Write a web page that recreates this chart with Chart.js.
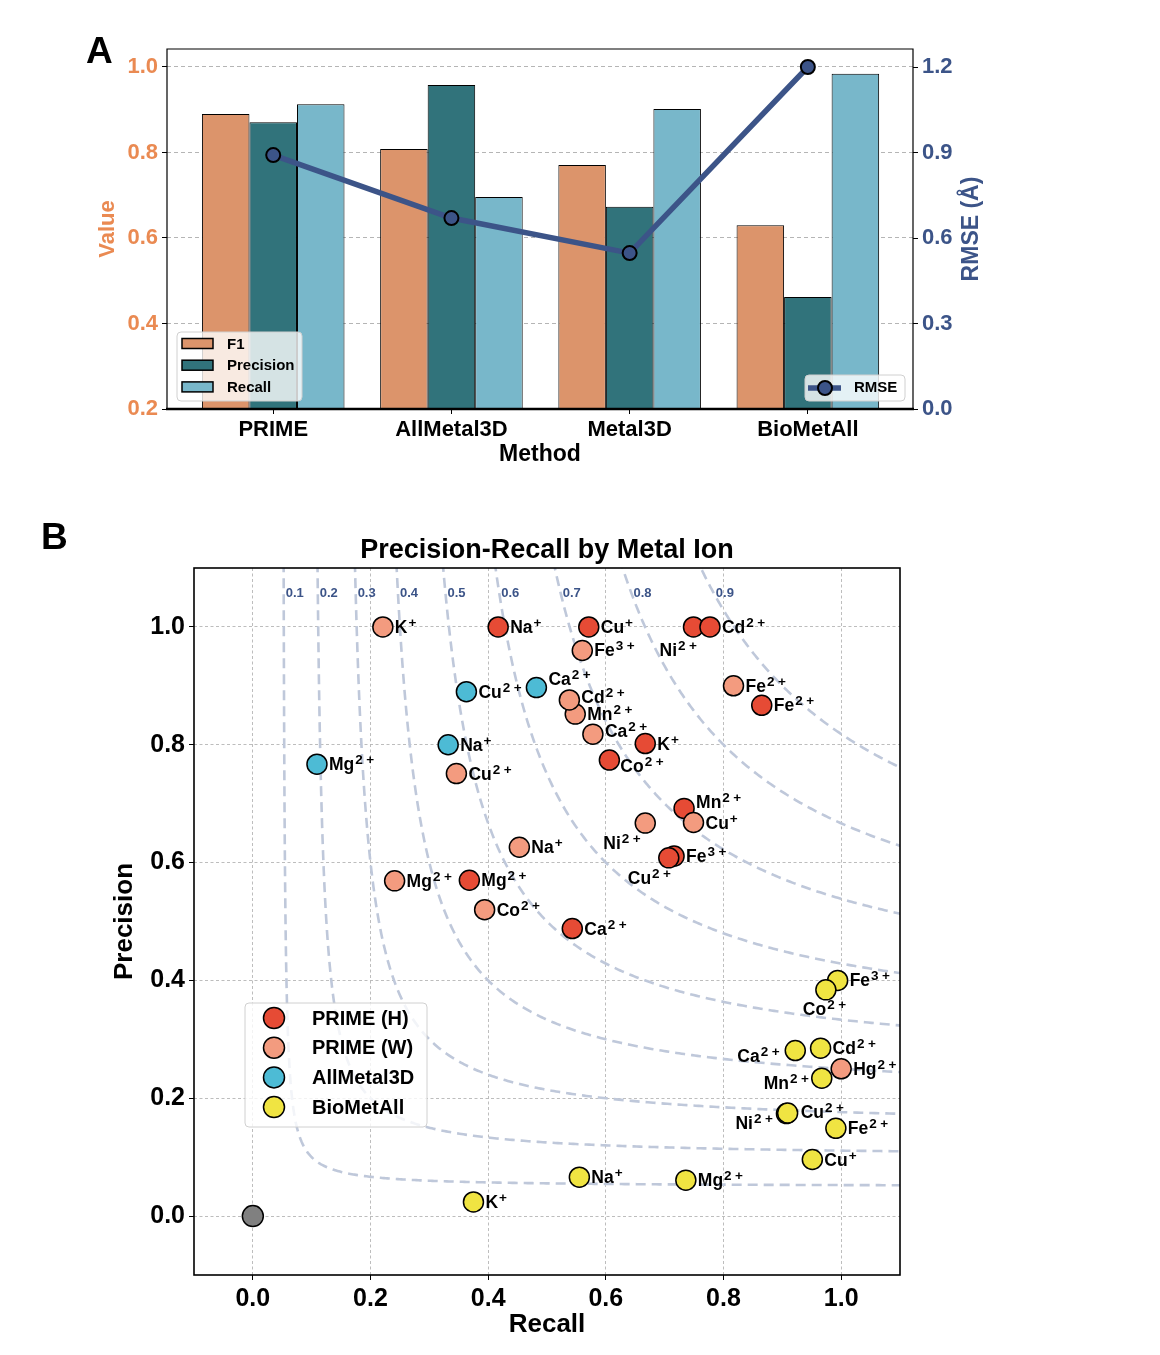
<!DOCTYPE html>
<html><head><meta charset="utf-8">
<script src="https://cdn.jsdelivr.net/npm/chart.js@4.4.1/dist/chart.umd.min.js"></script>
<style>
html,body{margin:0;padding:0;background:#fff;}
#wrap{position:relative;width:1160px;height:1355px;background:#fff;}
#cA{position:absolute;left:0;top:0;}
#cB{position:absolute;left:0;top:480px;}
</style></head><body>
<div id="wrap"><canvas id="cA" width="1160" height="480"></canvas><canvas id="cB" width="1160" height="875"></canvas></div>
<script>
const FONT = '"Liberation Sans", Arial, Helvetica, sans-serif';

// ---------- Panel A data ----------
const methods = ['PRIME', 'AllMetal3D', 'Metal3D', 'BioMetAll'];
const f1Values = [0.890, 0.808, 0.771, 0.630];
const precisionValues = [0.871, 0.958, 0.673, 0.462];
const recallValues = [0.913, 0.696, 0.902, 0.984];
const rmseValues = [0.891, 0.670, 0.547, 1.200];
const valueTicks = [0.2, 0.4, 0.6, 0.8, 1.0];
const rmseTicks = [0.0, 0.3, 0.6, 0.9, 1.2];

// ---------- Panel B data ----------
const primeHIons = ['Na+', 'Cu+', 'Ni2+', 'Cd2+', 'Fe2+', 'K+', 'Co2+', 'Mn2+', 'Fe3+', 'Cu2+', 'Mg2+', 'Ca2+'];
const primeHRecall = [0.417, 0.571, 0.749, 0.777, 0.865, 0.667, 0.606, 0.733, 0.716, 0.707, 0.368, 0.543];
const primeHPrecision = [1.000, 1.000, 1.000, 1.000, 0.867, 0.802, 0.774, 0.692, 0.611, 0.608, 0.570, 0.488];

const primeWIons = ['K+', 'Fe3+', 'Mn2+', 'Cd2+', 'Ca2+', 'Fe2+', 'Cu2+', 'Cu+', 'Ni2+', 'Na+', 'Mg2+', 'Co2+', 'Hg2+'];
const primeWRecall = [0.221, 0.560, 0.548, 0.538, 0.578, 0.817, 0.346, 0.749, 0.667, 0.453, 0.241, 0.394, 1.000];
const primeWPrecision = [1.000, 0.960, 0.852, 0.876, 0.818, 0.900, 0.751, 0.668, 0.667, 0.626, 0.569, 0.520, 0.250];

const allMetalIons = ['Cu2+', 'Ca2+', 'Na+', 'Mg2+'];
const allMetalRecall = [0.363, 0.482, 0.332, 0.109];
const allMetalPrecision = [0.890, 0.897, 0.800, 0.767];

const bioMetAllIons = ['Fe3+', 'Co2+', 'Ca2+', 'Cd2+', 'Mn2+', 'Ni2+', 'Cu2+', 'Fe2+', 'Cu+', 'Na+', 'Mg2+', 'K+'];
const bioMetAllRecall = [0.994, 0.974, 0.922, 0.965, 0.967, 0.907, 0.909, 0.991, 0.951, 0.555, 0.736, 0.375];
const bioMetAllPrecision = [0.400, 0.384, 0.281, 0.285, 0.234, 0.174, 0.175, 0.149, 0.096, 0.066, 0.061, 0.024];

const originRecall = [0.0];
const originPrecision = [0.0];

const recallTicks = [0.0, 0.2, 0.4, 0.6, 0.8, 1.0];
const precisionTicks = [0.0, 0.2, 0.4, 0.6, 0.8, 1.0];
const isoF1Levels = [0.1, 0.2, 0.3, 0.4, 0.5, 0.6, 0.7, 0.8, 0.9];

// ---------- label placement (pixel offsets of text from marker centre) ----------
const labelOffsets = {
  'PRIME (H)': {'Ni2+': [-34, 23], 'Co2+': [11, 6], 'Mn2+': [12, -6], 'Cu2+': [-41, 20]},
  'PRIME (W)': {'Cd2+': [12, -3], 'Ca2+': [12, -3], 'Ni2+': [-42, 20]},
  'AllMetal3D': {'Ca2+': [12, -9]},
  'BioMetAll': {'Co2+': [-23, 19], 'Ca2+': [-58, 5], 'Mn2+': [-58, 5], 'Ni2+': [-51, 9], 'Cu2+': [13, -1]}
};
const defaultOffset = [12, 0];

const ORANGE = '#EA8A52';
const NAVY = '#3C5488';

Chart.defaults.font.family = FONT;
Chart.defaults.font.weight = 'bold';

function pts(xs, ys) { return xs.map((x, i) => ({x: x, y: ys[i]})); }

// ================= Panel A =================
const panelAPlugin = {
  id: 'panelA',
  afterDraw(chart) {
    const {ctx, chartArea: {left, right, top, bottom}} = chart;
    ctx.save();
    ctx.strokeStyle = '#000';
    ctx.lineWidth = 1.2;
    ctx.beginPath();
    ctx.moveTo(left, bottom); ctx.lineTo(left, top); ctx.lineTo(right, top); ctx.lineTo(right, bottom);
    ctx.stroke();
    ctx.lineWidth = 2.6;
    ctx.beginPath(); ctx.moveTo(left - 1, bottom); ctx.lineTo(right + 1, bottom); ctx.stroke();

    // axis titles
    ctx.textAlign = 'center'; ctx.textBaseline = 'middle';
    ctx.font = `bold 23px ${FONT}`;
    ctx.fillStyle = '#000';
    ctx.fillText('Method', (left + right) / 2, 455);
    ctx.save(); ctx.translate(108, (top + bottom) / 2); ctx.rotate(-Math.PI / 2);
    ctx.fillStyle = ORANGE; ctx.font = `bold 22px ${FONT}`; ctx.fillText('Value', 0, 0); ctx.restore();
    ctx.save(); ctx.translate(972, (top + bottom) / 2); ctx.rotate(-Math.PI / 2);
    ctx.fillStyle = NAVY; ctx.font = `bold 23px ${FONT}`; ctx.fillText('RMSE (Å)', 0, 0); ctx.restore();

    // panel letter
    ctx.textAlign = 'left'; ctx.textBaseline = 'alphabetic';
    ctx.fillStyle = '#000'; ctx.font = `bold 37px ${FONT}`;
    ctx.fillText('A', 86, 63);

    // legend (bars)
    const ds = chart.data.datasets;
    roundBox(ctx, 177, 332, 125, 69, 4);
    const items = [ds[1], ds[2], ds[3]];
    items.forEach((d, i) => {
      const cy = 343.5 + i * 21.7;
      ctx.fillStyle = d.backgroundColor; ctx.fillRect(182, cy - 5, 31, 10);
      ctx.strokeStyle = '#000'; ctx.lineWidth = 1.5; ctx.strokeRect(182, cy - 5, 31, 10);
      ctx.fillStyle = '#000'; ctx.font = `bold 15px ${FONT}`; ctx.textBaseline = 'middle';
      ctx.fillText(d.label, 227, cy + 1);
    });
    // legend (line)
    roundBox(ctx, 805, 375, 100, 26, 4);
    ctx.strokeStyle = NAVY; ctx.lineWidth = 5.5;
    ctx.beginPath(); ctx.moveTo(808, 388); ctx.lineTo(841, 388); ctx.stroke();
    ctx.beginPath(); ctx.arc(825, 388, 7, 0, Math.PI * 2);
    ctx.fillStyle = NAVY; ctx.fill(); ctx.strokeStyle = '#000'; ctx.lineWidth = 2; ctx.stroke();
    ctx.fillStyle = '#000'; ctx.font = `bold 15px ${FONT}`; ctx.textBaseline = 'middle';
    ctx.fillText(ds[0].label, 854, 388);
    ctx.restore();
  }
};

function roundBox(ctx, x, y, w, h, r) {
  ctx.save();
  ctx.beginPath();
  ctx.moveTo(x + r, y); ctx.lineTo(x + w - r, y); ctx.arcTo(x + w, y, x + w, y + r, r);
  ctx.lineTo(x + w, y + h - r); ctx.arcTo(x + w, y + h, x + w - r, y + h, r);
  ctx.lineTo(x + r, y + h); ctx.arcTo(x, y + h, x, y + h - r, r);
  ctx.lineTo(x, y + r); ctx.arcTo(x, y, x + r, y, r); ctx.closePath();
  ctx.fillStyle = 'rgba(255,255,255,0.8)'; ctx.fill();
  ctx.strokeStyle = '#d0d0d0'; ctx.lineWidth = 1; ctx.stroke();
  ctx.restore();
}

new Chart(document.getElementById('cA'), {
  type: 'bar',
  data: {
    datasets: [
      {type: 'line', label: 'RMSE', data: rmseValues.map((v, i) => ({x: i, y: v})), yAxisID: 'y1',
       borderColor: NAVY, borderWidth: 5.5, pointRadius: 7, pointBackgroundColor: NAVY,
       pointBorderColor: '#000', pointBorderWidth: 2, tension: 0, order: 0, clip: false},
      {label: 'F1', data: f1Values.map((v, i) => ({x: i, y: v})), yAxisID: 'y',
       backgroundColor: '#DC946B', borderColor: '#000', borderWidth: 1, order: 1},
      {label: 'Precision', data: precisionValues.map((v, i) => ({x: i, y: v})), yAxisID: 'y',
       backgroundColor: '#31737B', borderColor: '#000', borderWidth: 1, order: 1},
      {label: 'Recall', data: recallValues.map((v, i) => ({x: i, y: v})), yAxisID: 'y',
       backgroundColor: '#78B7CA', borderColor: '#000', borderWidth: 1, order: 1}
    ]
  },
  options: {
    responsive: false, animation: false, events: [],
    layout: {padding: {top: 49, left: 0, right: 0, bottom: 0}},
    datasets: {bar: {barPercentage: 1.0, categoryPercentage: 0.8}},
    plugins: {legend: {display: false}, tooltip: {enabled: false}},
    scales: {
      x: {
        type: 'linear', min: -0.596, max: 3.59, offset: false,
        afterBuildTicks: s => { s.ticks = methods.map((m, i) => ({value: i})); },
        afterFit: s => { s.height = 71; },
        grid: {offset: false, drawOnChartArea: false, drawTicks: true, tickLength: 5, tickColor: '#000', tickWidth: 1},
        border: {display: false},
        ticks: {callback: v => methods[v] !== undefined ? methods[v] : '', color: '#000',
                font: {size: 22, weight: 'bold'}, padding: 3, autoSkip: false, maxRotation: 0}
      },
      y: {
        position: 'left', min: 0.2, max: 1.0421,
        afterBuildTicks: s => { s.ticks = valueTicks.map(v => ({value: v})); },
        afterFit: s => { s.width = 167; },
        grid: {color: '#b5b5b5', lineWidth: 1, tickLength: 5, tickColor: '#000', tickWidth: 1, tickBorderDash: []},
        border: {display: false, dash: [4, 3]},
        ticks: {callback: v => v.toFixed(1), color: ORANGE, font: {size: 22, weight: 'bold'}, padding: 4}
      },
      y1: {
        position: 'right', min: 0, max: 1.2632,
        afterBuildTicks: s => { s.ticks = rmseTicks.map(v => ({value: v})); },
        afterFit: s => { s.width = 247; },
        grid: {drawOnChartArea: false, tickLength: 5, tickColor: '#000', tickWidth: 1},
        border: {display: false},
        ticks: {callback: v => v.toFixed(1), color: NAVY, font: {size: 22, weight: 'bold'}, padding: 4}
      }
    }
  },
  plugins: [panelAPlugin]
});

// ================= Panel B =================
const scatterSeries = [
  {name: 'PRIME (H)', ions: primeHIons, recall: primeHRecall, precision: primeHPrecision, color: '#E64B35', order: 5},
  {name: 'PRIME (W)', ions: primeWIons, recall: primeWRecall, precision: primeWPrecision, color: '#F39B7F', order: 4},
  {name: 'AllMetal3D', ions: allMetalIons, recall: allMetalRecall, precision: allMetalPrecision, color: '#4DBBD5', order: 3},
  {name: 'BioMetAll', ions: bioMetAllIons, recall: bioMetAllRecall, precision: bioMetAllPrecision, color: '#F0E442', order: 2}
];

function isoCurve(f) {
  const out = [];
  const r0 = f * 1.3 / (2.6 - f);
  for (let i = 0; i <= 300; i++) {
    const t = i / 300;
    const r = r0 + (1.12 - r0) * t * t;
    out.push({x: r, y: f * r / (2 * r - f)});
  }
  return out;
}

const dsB = [];
isoF1Levels.forEach(f => {
  dsB.push({label: 'iso' + f, data: isoCurve(f), showLine: true, pointRadius: 0, pointHoverRadius: 0,
            borderColor: '#BFC8DA', borderWidth: 2.6, borderDash: [10, 6], order: 100, isIso: true});
});
scatterSeries.forEach(s => {
  dsB.push({label: s.name, data: pts(s.recall, s.precision), pointRadius: 10, pointHoverRadius: 10,
            backgroundColor: s.color, pointBackgroundColor: s.color, pointBorderColor: '#000', pointBorderWidth: 1.5,
            order: s.order, series: s});
});
dsB.push({label: 'origin', data: pts(originRecall, originPrecision), pointRadius: 10.5, pointHoverRadius: 10.5,
          pointBackgroundColor: '#808080', pointBorderColor: '#000', pointBorderWidth: 1.5, order: 1});

function drawIonLabel(ctx, text, x, y) {
  const m = text.match(/^([A-Z][a-z]?)(\d*)([+-])$/);
  const base = m[1], num = m[2], sign = m[3];
  ctx.fillStyle = '#000';
  ctx.textBaseline = 'alphabetic'; ctx.textAlign = 'left';
  ctx.font = `bold 17.5px ${FONT}`;
  const baseline = y + 6;
  ctx.fillText(base, x, baseline);
  let cx = x + ctx.measureText(base).width + 1;
  ctx.font = `bold 13.5px ${FONT}`;
  const sb = baseline - 6;
  if (num) { ctx.fillText(num, cx, sb); cx += ctx.measureText(num).width + 3.5; }
  ctx.fillText(sign, cx, sb);
}

const panelBPlugin = {
  id: 'panelB',
  afterDatasetsDraw(chart) {
    const ctx = chart.ctx;
    ctx.save();
    chart.data.datasets.forEach((d, di) => {
      if (!d.series) return;
      const meta = chart.getDatasetMeta(di);
      const offs = labelOffsets[d.series.name] || {};
      meta.data.forEach((el, i) => {
        const ion = d.series.ions[i];
        const o = offs[ion] || defaultOffset;
        drawIonLabel(ctx, ion, el.x + o[0], el.y + o[1]);
      });
    });
    ctx.restore();
  },
  afterDraw(chart) {
    const {ctx, chartArea: {left, right, top, bottom}, scales: {x, y}} = chart;
    ctx.save();
    // iso-F1 labels
    ctx.fillStyle = NAVY; ctx.font = `bold 13px ${FONT}`;
    ctx.textAlign = 'center'; ctx.textBaseline = 'middle';
    isoF1Levels.forEach(f => {
      const pl = 1.057;
      const r = f * pl / (2 * pl - f);
      ctx.fillText(f.toFixed(1), x.getPixelForValue(r) + 11, y.getPixelForValue(pl));
    });
    // frame
    ctx.strokeStyle = '#000'; ctx.lineWidth = 1.6;
    ctx.strokeRect(left, top, right - left, bottom - top);
    // titles
    ctx.fillStyle = '#000';
    ctx.textAlign = 'center'; ctx.textBaseline = 'middle';
    ctx.font = `bold 27px ${FONT}`;
    ctx.fillText('Precision-Recall by Metal Ion', (left + right) / 2, 71);
    ctx.font = `bold 26px ${FONT}`;
    ctx.fillText('Recall', (left + right) / 2, 845);
    ctx.save(); ctx.translate(125, (top + bottom) / 2); ctx.rotate(-Math.PI / 2);
    ctx.fillText('Precision', 0, 0); ctx.restore();
    // panel letter
    ctx.textAlign = 'left'; ctx.textBaseline = 'alphabetic';
    ctx.font = `bold 37px ${FONT}`;
    ctx.fillText('B', 41, 69);
    // legend
    roundBox(ctx, 245, 523, 182, 124, 4);
    scatterSeries.forEach((s, i) => {
      const cy = 538 + i * 29.7;
      ctx.beginPath(); ctx.arc(274, cy, 10.5, 0, Math.PI * 2);
      ctx.fillStyle = s.color; ctx.fill();
      ctx.strokeStyle = '#000'; ctx.lineWidth = 1.5; ctx.stroke();
      ctx.fillStyle = '#000'; ctx.font = `bold 20px ${FONT}`; ctx.textBaseline = 'middle'; ctx.textAlign = 'left';
      ctx.fillText(s.name, 312, cy + 1);
    });
    ctx.restore();
  }
};

new Chart(document.getElementById('cB'), {
  type: 'scatter',
  data: {datasets: dsB},
  options: {
    responsive: false, animation: false, events: [],
    layout: {padding: {top: 88, left: 0, right: 260, bottom: 0}},
    plugins: {legend: {display: false}, tooltip: {enabled: false}},
    scales: {
      x: {
        type: 'linear', min: -0.1, max: 1.1,
        afterBuildTicks: s => { s.ticks = recallTicks.map(v => ({value: v})); },
        afterFit: s => { s.height = 80; },
        grid: {color: '#b5b5b5', lineWidth: 0.9, tickLength: 5, tickColor: '#000', tickWidth: 1, tickBorderDash: []},
        border: {display: false, dash: [3, 2.5]},
        ticks: {callback: v => v.toFixed(1), color: '#000', font: {size: 25, weight: 'bold'}, padding: 4, autoSkip: false, maxRotation: 0}
      },
      y: {
        type: 'linear', min: -0.1, max: 1.1,
        afterBuildTicks: s => { s.ticks = precisionTicks.map(v => ({value: v})); },
        afterFit: s => { s.width = 194; },
        grid: {color: '#b5b5b5', lineWidth: 0.9, tickLength: 5, tickColor: '#000', tickWidth: 1, tickBorderDash: []},
        border: {display: false, dash: [3, 2.5]},
        ticks: {callback: v => v.toFixed(1), color: '#000', font: {size: 25, weight: 'bold'}, padding: 4}
      }
    }
  },
  plugins: [panelBPlugin]
});
</script>
</body></html>
